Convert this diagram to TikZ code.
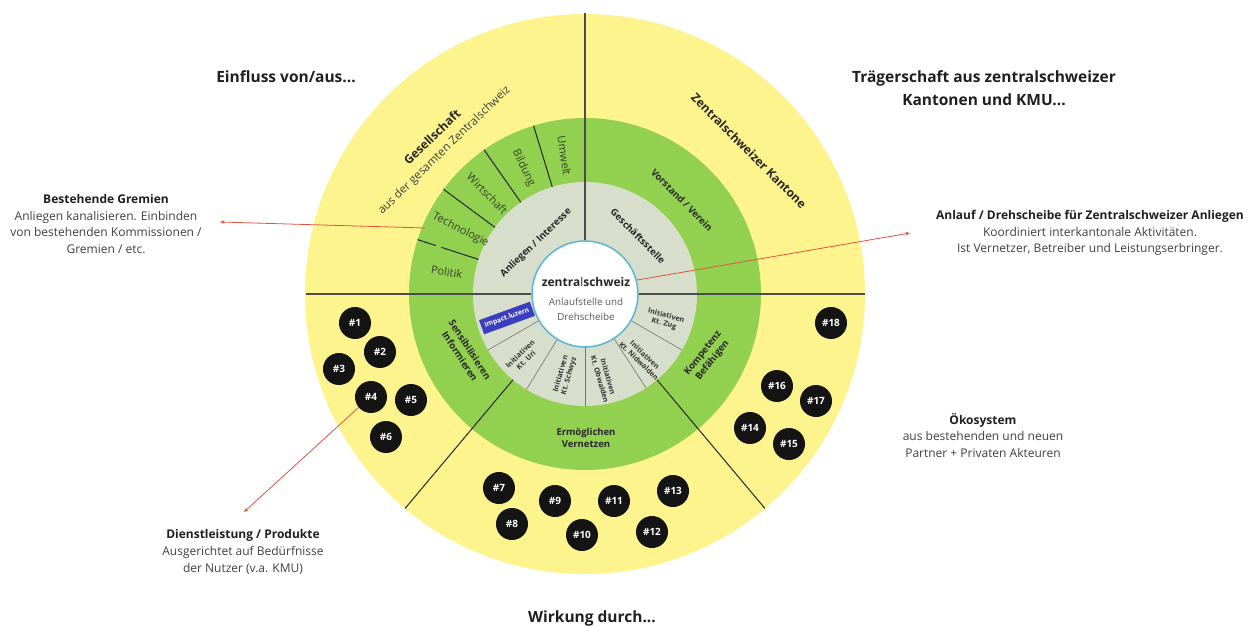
\documentclass[tikz,border=0pt]{standalone}
\usepackage{fontspec}
\setmainfont{Open Sans}
\usetikzlibrary{arrows.meta}

\definecolor{ringyellow}{HTML}{FEF48E}
\definecolor{ringgreen}{HTML}{92D050}
\definecolor{ringgrey}{HTML}{D7DFCC}
\definecolor{coreblue}{HTML}{5BB5D5}
\definecolor{pointred}{HTML}{E0533D}
\definecolor{boxblue}{HTML}{3B3FBF}
\definecolor{leafdark}{HTML}{34432A}

\tikzset{
  titletext/.style={font=\fontsize{15.5}{23}\selectfont\bfseries, text=black!88, align=center},
  notetext/.style={font=\fontsize{12}{16.8}\selectfont, text=black!75, align=center},
  numdot/.style={circle, fill=black!92, minimum size=32pt, inner sep=0pt, text=white,
    font=\fontsize{10}{12}\selectfont\bfseries},
  ringword/.style={font=\fontsize{11}{13}\selectfont, text=leafdark},
  ringhead/.style={font=\fontsize{9.5}{12}\selectfont\bfseries, align=center, text=black!85},
  outerhead/.style={font=\fontsize{12}{14}\selectfont\bfseries, text=black!85},
  initlabel/.style={font=\fontsize{7.2}{8.6}\selectfont\bfseries, align=center, text=black!80},
  pointer/.style={draw=pointred, line width=0.8pt, -{Stealth[length=4.5pt,width=3.5pt]}},
  mainsplit/.style={draw=black!70, line width=1.4pt},
  sectorsplit/.style={draw=black!85, line width=1pt},
  innersplit/.style={draw=black!55, line width=0.6pt},
}

\begin{document}
\begin{tikzpicture}[x=1pt,y=1pt]
  % page frame
  \fill[white] (-585,-332) rectangle (675,294);
  \useasboundingbox (-585,-332) rectangle (675,294);

  % rings
  \fill[ringyellow] (0,0) circle (280);
  \fill[ringgreen] (0,0) circle (176);
  \fill[ringgrey] (0,0) circle (112);

  % sector borders in the green ring (upper left)
  \foreach \a in {107,125,143.5} {
    \draw[sectorsplit] (\a:112) -- (\a:176);
  }
  \draw[sectorsplit] (162:112) -- (162:151);
  \draw[sectorsplit] (162:157) -- (162:176);

  % sector borders in the grey ring (lower half)
  \foreach \a in {210,238.5,270,303,330} {
    \draw[innersplit] (\a:53) -- (\a:112);
  }

  % lower diagonal borders
  \draw[sectorsplit] (230:112) -- (230:280);
  \draw[sectorsplit] (310:112) -- (310:280);

  % core
  \node[circle, fill=white, draw=coreblue, line width=1.5pt, minimum size=106pt, inner sep=0pt] (core) at (0,0) {};

  % quadrant borders
  \draw[mainsplit] (0,281) -- (core.north);
  \draw[mainsplit] (-279,0) -- (core.west);
  \draw[mainsplit] (core.east) -- (280,0);

  % core text
  \node[font=\fontsize{12}{14}\selectfont\bfseries, text=black!85] (coretitle) at (1,12) {zentra{\mdseries l}schweiz};
  \node[font=\fontsize{9.8}{15}\selectfont, text=black!65, align=center] (coresub) at (1,-15.5) {Anlaufstelle und\\Drehscheibe};

  % green ring words, upper left
  \node[ringword, rotate=-81.5] (wUmwelt) at (98.5:140) {Umwelt};
  \node[ringword, rotate=-64] (wBildung) at (116:140) {Bildung};
  \node[ringword, rotate=-45.75] (wWirtschaft) at (134.25:140) {Wirtschaft};
  \node[ringword, rotate=-27.25] (wTechnologie) at (152.75:140) {Technologie};
  \node[ringword, rotate=-9] (wPolitik) at (171:140) {Politik};

  % outer ring headings
  \node[outerhead, rotate=44] (hGesellschaft) at (-153,157) {Gesellschaft};
  \node[font=\fontsize{11.5}{13}\selectfont, text=black!75, rotate=44] (hGesamt) at (-140.5,143.5) {aus der gesamten Zentralschweiz};
  \node[outerhead, rotate=-45] (hKantone) at (164,143) {Zentralschweizer Kantone};

  % green ring headings
  \node[ringhead, rotate=-45] (hVorstand) at (97,94) {Vorstand / Verein};
  \node[ringhead, rotate=-57] (hSensibel) at (-120,-59) {Sensibilisieren\\Informieren};
  \node[ringhead] (hErmoeglichen) at (1,-144) {Ermöglichen\\Vernetzen};
  \node[ringhead, rotate=52] (hKompetenz) at (123,-63) {Kompetenz\\Befähigen};

  % grey ring headings
  \node[ringhead, rotate=-45] (hGeschaeft) at (53,58) {Geschäftsstelle};
  \node[ringhead, rotate=44] (hAnliegen) at (-49,51) {Anliegen / Interesse};

  % initiatives
  \node[fill=boxblue, text=white, font=\fontsize{6.8}{8}\selectfont\bfseries, rotate=20,
        minimum width=54pt, minimum height=15pt, inner sep=1pt] (impact) at (-78,-24) {impact.luzern};
  \node[initlabel, rotate=44] (iUri) at (-62,-63) {Initiativen\\Kt. Uri};
  \node[initlabel, rotate=74] (iSchwyz) at (-20,-81) {Initiativen\\Kt. Schwyz};
  \node[initlabel, rotate=-74] (iObwalden) at (19,-84) {Initiativen\\Kt. Obwalden};
  \node[initlabel, rotate=-44] (iNidwalden) at (57,-64) {Initiativen\\Kt. Nidwalden};
  \node[initlabel, rotate=-15] (iZug) at (80,-26) {Initiativen\\Kt. Zug};

  % partners
  \node[numdot] (n1) at (-230,-29) {\#1};
  \node[numdot] (n2) at (-205,-58) {\#2};
  \node[numdot] (n3) at (-246,-75) {\#3};
  \node[numdot] (n4) at (-214,-103) {\#4};
  \node[numdot] (n5) at (-174,-106) {\#5};
  \node[numdot] (n6) at (-199,-143) {\#6};
  \node[numdot] (n7) at (-86,-194) {\#7};
  \node[numdot] (n8) at (-73,-230) {\#8};
  \node[numdot] (n9) at (-30,-207) {\#9};
  \node[numdot] (n10) at (-3,-241) {\#10};
  \node[numdot] (n11) at (29,-207) {\#11};
  \node[numdot] (n12) at (67,-238) {\#12};
  \node[numdot] (n13) at (88,-197) {\#13};
  \node[numdot] (n14) at (165,-134) {\#14};
  \node[numdot] (n15) at (204,-150) {\#15};
  \node[numdot] (n16) at (192,-92) {\#16};
  \node[numdot] (n17) at (231,-107) {\#17};
  \node[numdot] (n18) at (246,-29) {\#18};

  % titles
  \node[titletext] (tEinfluss) at (-299,217) {Einfluss von/aus...};
  \node[titletext] (tTraeger) at (399,205.5) {Trägerschaft aus zentralschweizer\\Kantonen und KMU...};
  \node[titletext] (tWirkung) at (7,-324) {Wirkung durch...};

  % side notes
  \node[notetext] (nGremien) at (-479,70) {\textbf{\color{black!88}Bestehende Gremien}\\Anliegen kanalisieren. Einbinden\\von bestehenden Kommissionen /\\Gremien / etc.};
  \node[notetext] (nAnlauf) at (505,61) {\textbf{\color{black!88}Anlauf / Drehscheibe für Zentralschweizer Anliegen}\\Koordiniert interkantonale Aktivitäten.\\Ist Vernetzer, Betreiber und Leistungserbringer.};
  \node[notetext] (nDienst) at (-342,-258) {\textbf{\color{black!88}Dienstleistung / Produkte}\\Ausgerichtet auf Bedürfnisse\\der Nutzer (v.a. KMU)};
  \node[notetext] (nOeko) at (398,-141.5) {\textbf{\color{black!88}Ökosystem}\\aus bestehenden und neuen\\Partner + Privaten Akteuren};

  % pointers
  \coordinate (gremSrc) at (-160,66);
  \coordinate (gremTip) at (-365,72);
  \coordinate (anlTip) at (325,61);
  \coordinate (dienstTip) at (-341,-218);
  \draw[pointer] (gremSrc) -- (gremTip);
  \draw[pointer] (core.15) -- (anlTip);
  \draw[pointer] (n4.220) -- (dienstTip);
\end{tikzpicture}
\end{document}
